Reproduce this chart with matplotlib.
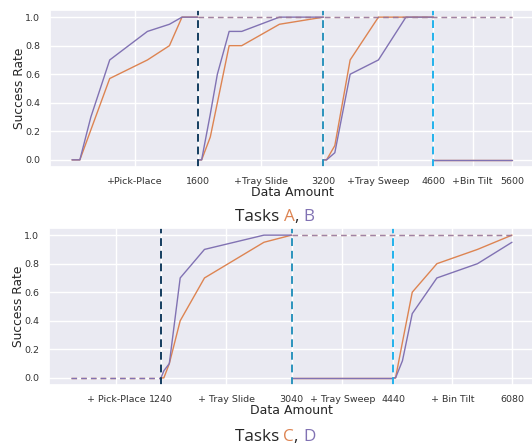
import matplotlib.pyplot as plt
import seaborn as sns

# ── colours ──────────────────────────────────────────────────────────────────
ORANGE = "#dd8452"
PURPLE = "#8172b3"
VLINE_COLORS = ["#143d5f", "#2b93bd", "#22b2ec"]

# ── top panel: tasks A, B ────────────────────────────────────────────────────
top_x = [
    [0, 100, 240, 480, 960, 1240, 1400, 1600],
    [1600, 1650, 1760, 1850, 2000, 2160, 2640, 3200],
    [3200, 3240, 3345, 3540, 3900, 4250, 4600],
    [4600, 5600],
]
a_y = [
    [0, 0, 0.21, 0.57, 0.70, 0.80, 1.0, 1.0],
    [0, 0, 0.16, 0.40, 0.80, 0.80, 0.95, 1.0],
    [0, 0, 0.10, 0.70, 1.0, 1.0, 1.0],
    [0, 0],
]
b_y = [
    [0, 0, 0.30, 0.70, 0.90, 0.95, 1.0, 1.0],
    [0, 0, 0.32, 0.60, 0.90, 0.90, 1.0, 1.0],
    [0, 0, 0.05, 0.60, 0.70, 1.0, 1.0],
    [0, 0],
]
top_bounds = [1600, 3200, 4600]
top_keep = [1600, 5600]
top_ticks = [800, 1600, 2400, 3200, 3900, 4600, 5100, 5600]
top_labels = ["+Pick-Place", "1600", "+Tray Slide", "3200",
              "+Tray Sweep", "4600", "+Bin Tilt", "5600"]

# ── bottom panel: tasks C, D ─────────────────────────────────────────────────
bot_x = [
    [0, 1240],
    [1240, 1280, 1355, 1505, 1840, 2660, 3040],
    [3040, 4440],
    [4440, 4475, 4570, 4705, 5045, 5605, 6080],
]
c_y = [
    [0, 0],
    [0, 0, 0.10, 0.40, 0.70, 0.95, 1.0],
    [0, 0],
    [0, 0, 0.25, 0.60, 0.80, 0.90, 1.0],
]
d_y = [
    [0, 0],
    [0, 0.05, 0.10, 0.70, 0.90, 1.0, 1.0],
    [0, 0],
    [0, 0, 0.12, 0.45, 0.70, 0.80, 0.95],
]
bot_bounds = [1240, 3040, 4440]
bot_keep = [3040, 6080]
bot_ticks = [620, 1240, 2140, 3040, 3740, 4440, 5260, 6080]
bot_labels = ["+ Pick-Place", "1240", "+ Tray Slide", "3040",
              "+ Tray Sweep", "4440", "+ Bin Tilt", "6080"]

sns.set_theme(style="darkgrid")
plt.rcParams["font.family"] = ["DejaVu Sans"]

fig = plt.figure(figsize=(5.32, 4.45), dpi=100)
ax_top = fig.add_axes([50 / 532, 1 - 167 / 445, 484 / 532, 157 / 445])
ax_bot = fig.add_axes([49 / 532, 1 - 385 / 445, 485 / 532, 157 / 445])


def draw(ax, xs, y1, y2, bounds, keep, ticks, labels, dashed_first):
    for i, (x, ya, yb) in enumerate(zip(xs, y1, y2)):
        ls = (0, (4, 3)) if (dashed_first and i == 0) else "-"
        ax.plot(x, ya, color=ORANGE, lw=1.0, ls=ls)
        ax.plot(x, yb, color=PURPLE, lw=1.0, ls=ls)
    # kept-skill line at 1.0
    ax.plot(keep, [1, 1], color=ORANGE, lw=1.0, ls=(0, (4, 3)), alpha=0.7)
    ax.plot(keep, [1, 1], color=PURPLE, lw=1.0, ls=(0, (4, 3)), alpha=0.7)
    for b, c in zip(bounds, VLINE_COLORS):
        ax.axvline(b, color=c, lw=1.4, ls=(0, (4, 2.5)))
    span = xs[-1][-1]
    ax.set_xlim(-0.05 * span, 1.05 * span)
    ax.set_ylim(-0.05, 1.05)
    ax.set_xticks(ticks)
    ax.set_xticklabels(labels)
    ax.set_yticks([0, 0.2, 0.4, 0.6, 0.8, 1.0])
    ax.set_yticklabels(["0.0", "0.2", "0.4", "0.6", "0.8", "1.0"])
    ax.tick_params(labelsize=6.8, pad=1.2, colors="#333333")
    ax.set_xlabel("Data Amount", fontsize=9, labelpad=0, color="#262626")
    ax.set_ylabel("Success Rate", fontsize=8.8, labelpad=-1, color="#262626")


draw(ax_top, top_x, a_y, b_y, top_bounds, top_keep, top_ticks, top_labels, False)
draw(ax_bot, bot_x, c_y, d_y, bot_bounds, bot_keep, bot_ticks, bot_labels, True)


def caption(y, first, second):
    font = dict(fontsize=12.3, family=["Open Sans", "DejaVu Sans"])
    parts = [("Tasks ", "#262626"), (first, ORANGE), (", ", "#262626"), (second, PURPLE)]
    fig.canvas.draw()
    r = fig.canvas.get_renderer()
    texts = []
    for s, c in parts:
        texts.append(fig.text(0, y, s, color=c, va="baseline", **font))
    widths = [t.get_window_extent(r).width for t in texts]
    x = 275 - sum(widths) / 2
    for t, w in zip(texts, widths):
        t.set_x(x / 532)
        x += w


caption(1 - 221 / 445, "A", "B")
caption(1 - 441 / 445, "C", "D")

fig.savefig("out.png", dpi=100)
